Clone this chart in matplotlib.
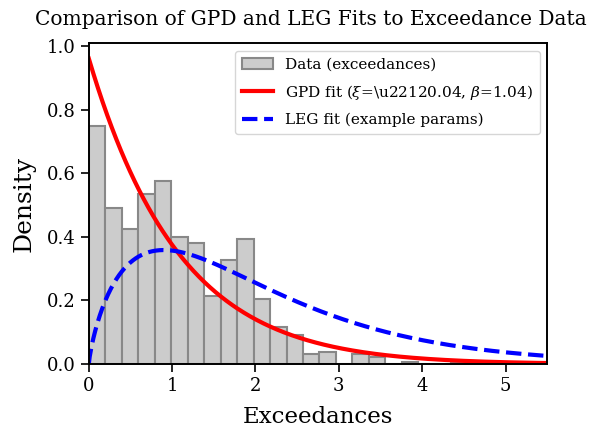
import math
import numpy as np
import matplotlib
matplotlib.use("Agg")
import matplotlib.pyplot as plt

plt.rcParams['font.family'] = 'DejaVu Serif'
plt.rcParams['mathtext.fontset'] = 'dejavuserif'

# histogram of exceedances (density), 30 bins
bin_start = 0.0
bin_width = 0.1977
densities = [0.749, 0.491, 0.426, 0.535, 0.575, 0.400, 0.381, 0.214, 0.328, 0.392,
             0.205, 0.116, 0.091, 0.032, 0.039, 0.0, 0.032, 0.023, 0.0, 0.008,
             0.0, 0.0, 0.008, 0.0, 0.0, 0.0, 0.0, 0.0, 0.0, 0.008]

# fitted parameters
gpd_xi = -0.04
gpd_beta = 1.04
leg_shape = 1.8
leg_scale = 1.125

edges = bin_start + bin_width * np.arange(len(densities) + 1)
x = np.linspace(0, 5.5, 500)

gpd_pdf = (1 / gpd_beta) * (1 + gpd_xi * x / gpd_beta) ** (-1 / gpd_xi - 1)
leg_pdf = x ** (leg_shape - 1) * np.exp(-x / leg_scale) / (math.gamma(leg_shape) * leg_scale ** leg_shape)

fig = plt.figure(figsize=(6.04, 4.36), dpi=100)
ax = fig.add_axes([0.147, 0.165, 0.759, 0.736])

ax.hist(edges[:-1], bins=edges, weights=densities, color='#cccccc', edgecolor='#888888',
        linewidth=1.5, label='Data (exceedances)')
ax.plot(x, gpd_pdf, color='red', lw=3,
        label=r'GPD fit ($\xi$=\u22120.04, $\beta$=1.04)')
ax.plot(x, leg_pdf, color='blue', lw=3, ls='--',
        label='LEG fit (example params)')

ax.set_xlim(0, 5.5)
ax.set_title('Comparison of GPD and LEG Fits to Exceedance Data', fontsize=14.5, pad=13, x=0.485)
ax.set_xlabel('Exceedances', fontsize=16.5, labelpad=8)
ax.set_ylabel('Density', fontsize=18, labelpad=8)
ax.tick_params(labelsize=13, length=6, width=1.2)
for s in ax.spines.values():
    s.set_linewidth(1.4)
ax.legend(loc='upper right', fontsize=11, handlelength=2.0, labelspacing=0.72, borderpad=0.45)

fig.savefig('out.png', dpi=100)
